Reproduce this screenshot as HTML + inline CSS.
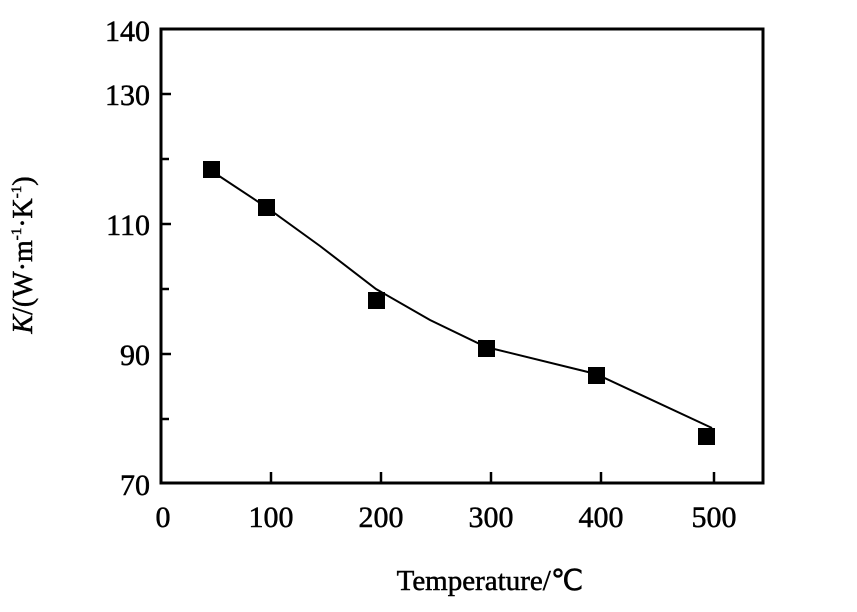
<!DOCTYPE html>
<html><head><meta charset="utf-8"><style>
body{margin:0;background:#fff;}
svg text{font-family:"Liberation Serif",serif;fill:#000;stroke:#000;stroke-width:0.5;}
</style></head><body>
<svg width="857" height="607" viewBox="0 0 857 607" xmlns="http://www.w3.org/2000/svg">
<rect x="161" y="29" width="602" height="454" fill="none" stroke="#000" stroke-width="3"/>
<g stroke="#000" stroke-width="2.5">
<line x1="161" y1="94" x2="171" y2="94"/>
<line x1="161" y1="159" x2="169" y2="159"/>
<line x1="161" y1="224" x2="171" y2="224"/>
<line x1="161" y1="289" x2="169" y2="289"/>
<line x1="161" y1="354" x2="171" y2="354"/>
<line x1="161" y1="419" x2="169" y2="419"/>
<line x1="271" y1="483" x2="271" y2="472"/>
<line x1="381" y1="483" x2="381" y2="472"/>
<line x1="491" y1="483" x2="491" y2="472"/>
<line x1="601" y1="483" x2="601" y2="472"/>
<line x1="714" y1="483" x2="714" y2="472"/>
</g>
<g font-size="30" text-anchor="end">
<text x="150" y="41">140</text>
<text x="150" y="105">130</text>
<text x="150" y="235">110</text>
<text x="150" y="365">90</text>
<text x="150" y="495">70</text>
</g>
<g font-size="30" text-anchor="middle">
<text x="163" y="527">0</text>
<text x="271" y="527">100</text>
<text x="381" y="527">200</text>
<text x="491" y="527">300</text>
<text x="601" y="527">400</text>
<text x="714" y="527">500</text>
</g>
<text x="490" y="590" font-size="29" text-anchor="middle">Temperature/℃</text>
<text transform="translate(32,255) rotate(-90)" font-size="28" text-anchor="middle"><tspan font-style="italic">K</tspan>/(W·m<tspan font-size="15" dy="-11">-1</tspan><tspan dy="11">·K</tspan><tspan font-size="15" dy="-11">-1</tspan><tspan dy="11">)</tspan></text>
<polyline points="204,166 266,207 320,246 376,289 430,320 486,347 596,374 712,428" fill="none" stroke="#000" stroke-width="2"/>
<g fill="#000">
<rect x="203" y="161" width="17" height="17"/>
<rect x="258" y="199" width="17" height="17"/>
<rect x="368" y="292" width="17" height="17"/>
<rect x="478" y="340" width="17" height="17"/>
<rect x="588" y="367" width="17" height="17"/>
<rect x="698" y="428" width="17" height="17"/>
</g>
</svg>
</body></html>
